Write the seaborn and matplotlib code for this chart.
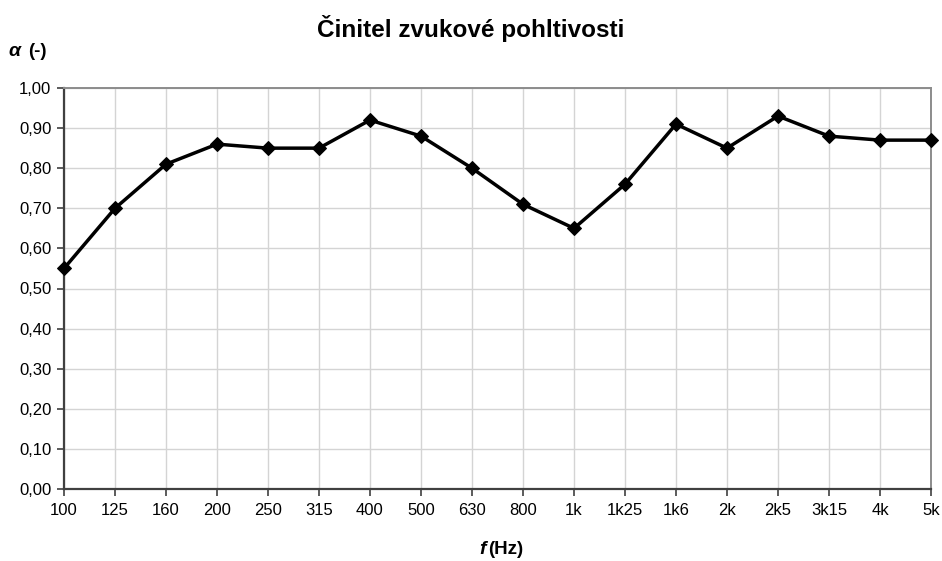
import matplotlib
matplotlib.use("Agg")
import matplotlib.pyplot as plt
import seaborn as sns
import pandas as pd
import numpy as np

freq_labels = ["100", "125", "160", "200", "250", "315", "400", "500", "630",
               "800", "1k", "1k25", "1k6", "2k", "2k5", "3k15", "4k", "5k"]
alpha_values = [0.55, 0.70, 0.81, 0.86, 0.85, 0.85, 0.92, 0.88, 0.80,
                0.71, 0.65, 0.76, 0.91, 0.85, 0.93, 0.88, 0.87, 0.87]
y_ticks = [0.0, 0.1, 0.2, 0.3, 0.4, 0.5, 0.6, 0.7, 0.8, 0.9, 1.0]
y_tick_labels = ["0,00", "0,10", "0,20", "0,30", "0,40", "0,50", "0,60",
                 "0,70", "0,80", "0,90", "1,00"]

sns.set_style("white")
plt.rcParams['font.family'] = ['Liberation Sans', 'DejaVu Sans']
plt.rcParams['text.color'] = 'black'

df = pd.DataFrame({"idx": np.arange(len(freq_labels)), "alpha": alpha_values})

fig = plt.figure(figsize=(9.42, 5.61), dpi=100)
ax = fig.add_axes([64/942, 1-489/561, (931-64)/942, (489-88)/561])

sns.lineplot(data=df, x="idx", y="alpha", ax=ax, color="black", linewidth=2.5,
             marker="D", markersize=7, markeredgecolor="black",
             markerfacecolor="black", zorder=5, clip_on=False)

ax.set_xlim(0, len(freq_labels) - 1)
ax.set_ylim(0, 1.0)
ax.set_xticks(np.arange(len(freq_labels)))
ax.set_xticklabels(freq_labels)
ax.set_yticks(y_ticks)
ax.set_yticklabels(y_tick_labels)
ax.grid(True, color="#d4d4d4", linewidth=1.0)
ax.set_axisbelow(True)
ax.set_xlabel("")
ax.set_ylabel("")

for s in ["left", "bottom"]:
    ax.spines[s].set_color("#404040")
    ax.spines[s].set_linewidth(1.6)
for s in ["top", "right"]:
    ax.spines[s].set_color("#8c8c8c")
    ax.spines[s].set_linewidth(1.4)

ax.tick_params(axis="both", which="both", length=5, width=1.2, color="#404040",
               labelsize=12, labelcolor="black", direction="out", bottom=True, left=True)
ax.tick_params(axis="x", pad=5)
ax.tick_params(axis="y", pad=4)

fig.text(0.5, 1 - 29/561, "Činitel zvukové pohltivosti", ha="center", va="center",
         fontsize=17.5, fontweight="bold", color="black")
fig.text(8/942, 1 - 51/561, "α", ha="left", va="center", fontsize=14,
         fontweight="bold", fontstyle="italic", color="black")
fig.text(28/942, 1 - 51/561, "(-)", ha="left", va="center", fontsize=13.5,
         fontweight="bold", color="black")
fig.text(486/942, 1 - 549/561, "f", ha="right", va="center", fontsize=14,
         fontweight="bold", fontstyle="italic", color="black")
fig.text(488/942, 1 - 549/561, "(Hz)", ha="left", va="center", fontsize=13.5,
         fontweight="bold", color="black")

fig.savefig("out.png", dpi=100)
